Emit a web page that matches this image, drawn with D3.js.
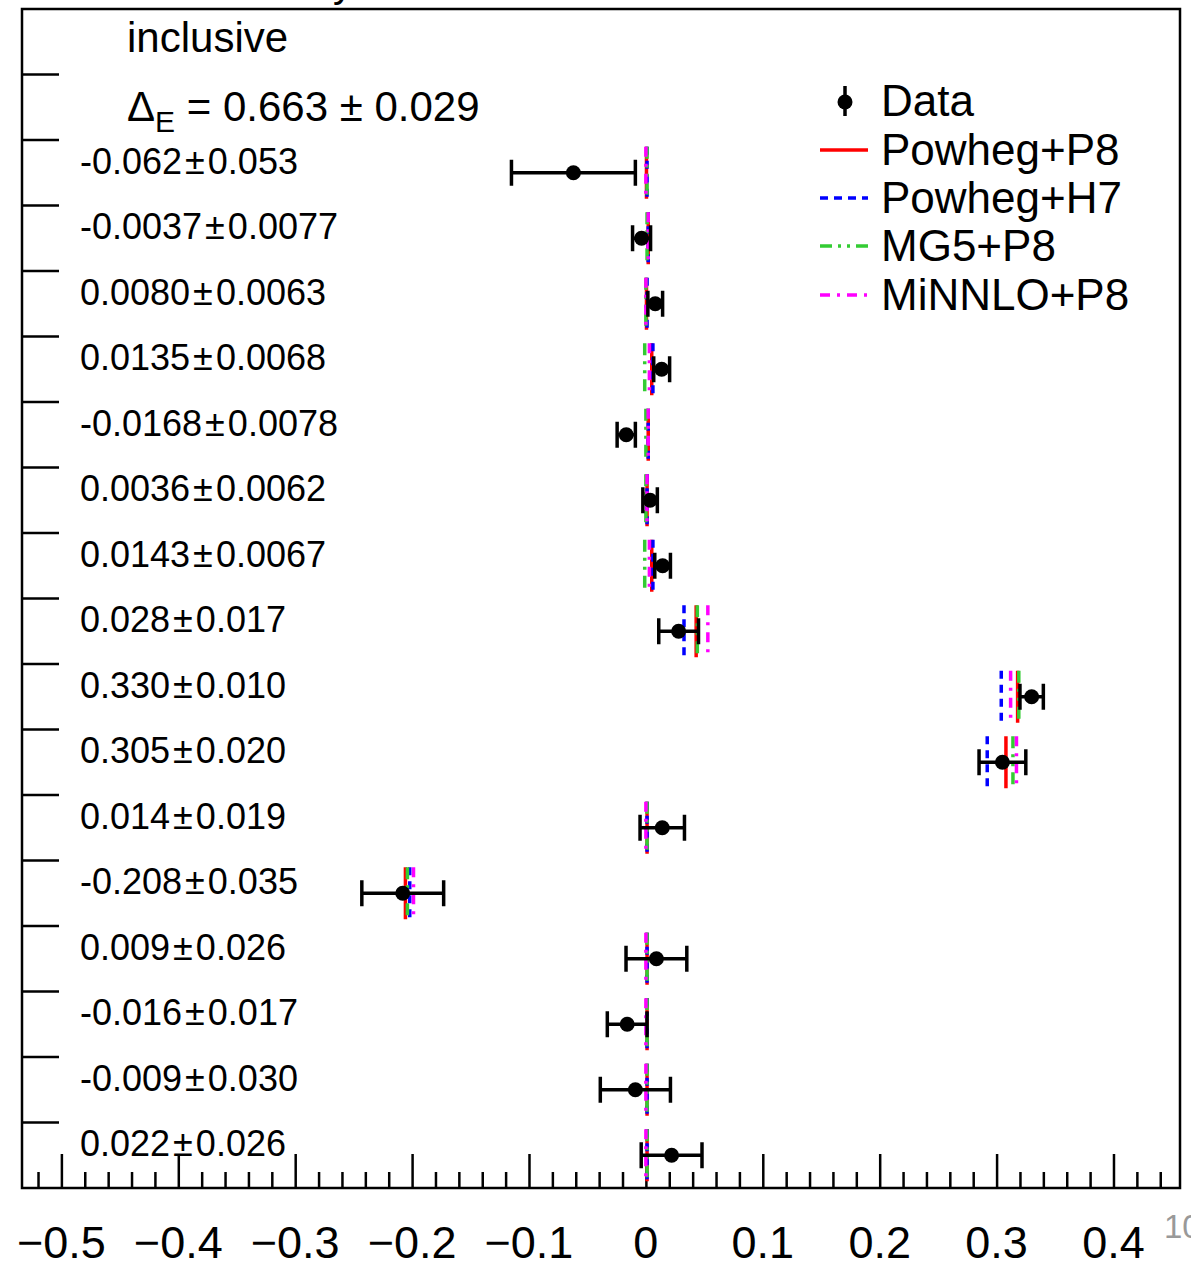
<!DOCTYPE html>
<html>
<head>
<meta charset="utf-8">
<script src="https://cdn.jsdelivr.net/npm/d3@7"></script>
<style>
  body { margin: 0; background: #fff; }
  text { font-family: "Liberation Sans", Arial, Helvetica, sans-serif; }
</style>
</head>
<body>
<div id="chart"></div>
<script>
// valori (righe dall'alto verso il basso)
var dataVal = ["-0.062","-0.0037","0.0080","0.0135","-0.0168","0.0036","0.0143","0.028",
               "0.330","0.305","0.014","-0.208","0.009","-0.016","-0.009","0.022"];
var dataErr = ["0.053","0.0077","0.0063","0.0068","0.0078","0.0062","0.0067","0.017",
               "0.010","0.020","0.019","0.035","0.026","0.017","0.030","0.026"];

var powhegP8 = [0.0005,0.002,0.0005,0.005,0.002,0.001,0.005,0.043,0.318,0.308,0.001,-0.2057,0.001,0.001,0.001,0.001];
var powhegH7 = [0.001,0.002,0.001,0.006,0.002,0.001,0.006,0.0326,0.304,0.292,0.001,-0.202,0.001,0.001,0.001,0.001];
var mg5P8    = [0.001,0.001,0.0,-0.001,0.0,0.0,-0.001,0.044,0.319,0.314,0.001,-0.204,0.001,0.001,0.001,0.001];
var minnloP8 = [0.0,0.002,0.0,0.003,0.002,0.001,0.003,0.053,0.312,0.317,0.0,-0.1988,0.0,0.0,0.0,0.0];

var xTicks = [-0.5,-0.4,-0.3,-0.2,-0.1,0,0.1,0.2,0.3,0.4];
var xTickLabels = ["\u22120.5","\u22120.4","\u22120.3","\u22120.2","\u22120.1","0","0.1","0.2","0.3","0.4"];

var models = [
  {name:"Powheg+P8", vals:powhegP8, color:"#ff0000", dash:null},
  {name:"Powheg+H7", vals:powhegH7, color:"#0000ff", dash:"8,6"},
  {name:"MG5+P8",    vals:mg5P8,    color:"#33cc33", dash:"12,6,3,6,3,6"},
  {name:"MiNNLO+P8", vals:minnloP8, color:"#ff00ff", dash:"10,7,3,7"}
];

// dimensioni del riquadro
var W = 1191, H = 1268;
var frame = {left: 22, right: 1180, top: 9, bottom: 1188};
var nBands = 18;

var x = d3.scaleLinear()
    .domain([-0.5337, 0.4569])
    .range([frame.left, frame.right]);

var y = d3.scaleLinear()
    .domain([0, nBands])
    .range([frame.top, frame.bottom]);

var svg = d3.select("#chart")
    .append("svg")
    .attr("width", W)
    .attr("height", H);

// titolo tagliato in alto (come nell'originale)
svg.append("text")
    .attr("x", 333).attr("y", -3)
    .style("font-size", "40px")
    .text("y");

// asse x
var xAxis = d3.axisBottom(x)
    .tickValues(d3.range(-52, 46, 2).map(function(d){ return d/100; }))
    .tickSize(0)
    .tickFormat("");

var gx = svg.append("g")
    .attr("transform", "translate(0," + frame.bottom + ")")
    .call(xAxis);
gx.select(".domain").remove();

gx.selectAll(".tick line")
    .attr("y2", function(d){ return Math.abs(Math.round(d*100) % 10) === 0 ? -34 : -16; })
    .attr("stroke", "#000")
    .attr("stroke-width", 2.5);

svg.selectAll(".xlab")
    .data(xTicks)
    .enter().append("text")
    .attr("class","xlab")
    .attr("x", function(d){ return x(d); })
    .attr("y", 1258)
    .attr("text-anchor","middle")
    .style("font-size","45px")
    .text(function(d,i){ return xTickLabels[i]; });

// tacche asse y
svg.selectAll(".ytick")
    .data(d3.range(1, nBands))
    .enter().append("line")
    .attr("x1", frame.left).attr("x2", frame.left + 37)
    .attr("y1", function(d){ return y(d); })
    .attr("y2", function(d){ return y(d); })
    .attr("stroke","#000")
    .attr("stroke-width",2.5);

// cornice
svg.append("rect")
    .attr("x", frame.left).attr("y", frame.top)
    .attr("width", frame.right - frame.left)
    .attr("height", frame.bottom - frame.top)
    .attr("fill","none")
    .attr("stroke","#000")
    .attr("stroke-width",2.5);

// linee dei modelli
var halfLen = 26;
models.forEach(function(m){
  svg.append("g").selectAll("line")
    .data(m.vals)
    .enter().append("line")
    .attr("x1", function(d){ return x(d); })
    .attr("x2", function(d){ return x(d); })
    .attr("y1", function(d,i){ return y(i+2.5) - halfLen; })
    .attr("y2", function(d,i){ return y(i+2.5) + halfLen; })
    .attr("stroke", m.color)
    .attr("stroke-width", 3.5)
    .attr("stroke-dasharray", m.dash);
});

// dati con barre d'errore
var gd = svg.append("g");
dataVal.forEach(function(v,i){
  var val = +v, err = +dataErr[i], cy = y(i+2.5);
  gd.append("line")
    .attr("x1", x(val-err)).attr("x2", x(val+err))
    .attr("y1", cy).attr("y2", cy)
    .attr("stroke","#000").attr("stroke-width",3.5);
  [val-err, val+err].forEach(function(e){
    gd.append("line")
      .attr("x1", x(e)).attr("x2", x(e))
      .attr("y1", cy-13).attr("y2", cy+13)
      .attr("stroke","#000").attr("stroke-width",3.5);
  });
  gd.append("circle")
    .attr("cx", x(val)).attr("cy", cy).attr("r", 7.5)
    .attr("fill","#000");

  svg.append("text")
    .attr("x", 80).attr("y", cy + 1)
    .style("font-size","36px")
    .text(v + "\u200a\u00b1\u200a" + dataErr[i]);
});

// testi in alto
svg.append("text")
    .attr("x", 127).attr("y", 52)
    .style("font-size","42px")
    .text("inclusive");

var tDelta = svg.append("text")
    .attr("x", 127).attr("y", 121)
    .style("font-size","42px");
tDelta.append("tspan").text("\u0394");
tDelta.append("tspan").attr("dy", 11).style("font-size","30px").text("E");
tDelta.append("tspan").attr("dy", -11).text(" = 0.663 \u00b1 0.029");

// legenda
var legY = [101, 150, 198, 246, 295];
var gl = svg.append("g");
gl.append("line")
    .attr("x1",845).attr("x2",845)
    .attr("y1",legY[0]-15).attr("y2",legY[0]+15)
    .attr("stroke","#000").attr("stroke-width",3.5);
gl.append("circle")
    .attr("cx",845).attr("cy",legY[0]+1).attr("r",7.5)
    .attr("fill","#000");
models.forEach(function(m,i){
  gl.append("line")
    .attr("x1",820).attr("x2",868)
    .attr("y1",legY[i+1]).attr("y2",legY[i+1])
    .attr("stroke",m.color).attr("stroke-width",3.5)
    .attr("stroke-dasharray",m.dash);
});
var legNames = ["Data"].concat(models.map(function(m){ return m.name; }));
gl.selectAll("text")
    .data(legNames)
    .enter().append("text")
    .attr("x", 881)
    .attr("y", function(d,i){ return legY[i] + 15; })
    .style("font-size","44px")
    .text(function(d){ return d; });

// numero di pagina tagliato al bordo (come nell'originale)
svg.append("text")
    .attr("x", 1164).attr("y", 1238)
    .style("font-size","33px")
    .attr("fill","#999")
    .text("10");
</script>
</body>
</html>
